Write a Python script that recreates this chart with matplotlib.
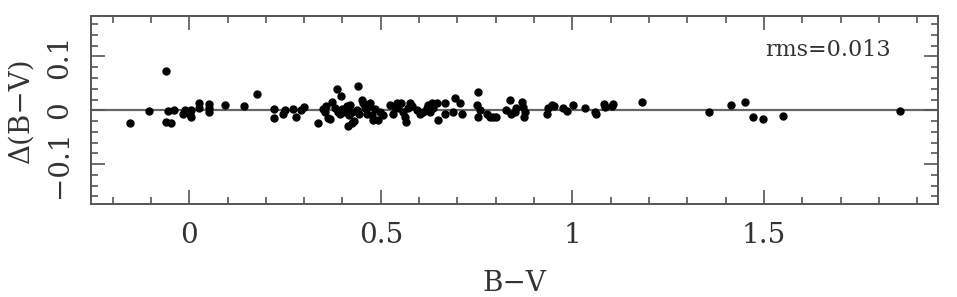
import matplotlib
matplotlib.use("Agg")
import matplotlib.pyplot as plt
from matplotlib.ticker import MultipleLocator, FixedLocator

bv = [-0.155, -0.104, -0.061, -0.061, -0.048, -0.056, -0.040, -0.017, -0.011, 0.002,
      0.004, 0.006, 0.025, 0.026, 0.052, 0.052, 0.053, 0.093, 0.144, 0.176,
      0.221, 0.221, 0.244, 0.250, 0.270, 0.280, 0.293, 0.300, 0.337, 0.350,
      0.354, 0.358, 0.362, 0.367, 0.374, 0.380, 0.386, 0.389, 0.393, 0.395,
      0.400, 0.406, 0.411, 0.415, 0.415, 0.418, 0.419, 0.424, 0.426, 0.430,
      0.437, 0.441, 0.444, 0.450, 0.454, 0.459, 0.463, 0.467, 0.473, 0.476,
      0.480, 0.485, 0.493, 0.498, 0.505, 0.524, 0.531, 0.537, 0.543, 0.546,
      0.554, 0.559, 0.563, 0.567, 0.572, 0.576, 0.581, 0.594, 0.602, 0.611,
      0.620, 0.624, 0.628, 0.633, 0.637, 0.646, 0.650, 0.667, 0.667, 0.689,
      0.694, 0.707, 0.711, 0.750, 0.754, 0.754, 0.759, 0.776, 0.785, 0.794,
      0.802, 0.828, 0.837, 0.841, 0.850, 0.854, 0.868, 0.872, 0.876, 0.874,
      0.933, 0.937, 0.946, 0.952, 0.976, 0.985, 1.001, 1.033, 1.059, 1.063,
      1.083, 1.085, 1.103, 1.107, 1.183, 1.357, 1.413, 1.451, 1.472, 1.498,
      1.551, 1.855]
dbv = [-0.023, -0.001, 0.073, -0.022, -0.024, -0.001, 0.000, -0.006, 0.000, -0.006,
       -0.013, 0.000, 0.004, 0.013, 0.011, -0.003, 0.004, 0.009, 0.008, 0.030,
       0.002, -0.014, -0.007, 0.000, 0.002, -0.013, 0.000, 0.006, -0.024, 0.002,
       -0.004, 0.008, -0.015, -0.017, 0.016, 0.004, 0.039, -0.003, -0.006, 0.026,
       0.002, -0.004, 0.008, 0.002, -0.029, -0.009, 0.010, -0.003, -0.024, -0.019,
       0.000, 0.045, -0.006, 0.020, 0.013, 0.004, -0.006, 0.007, 0.013, -0.009,
       -0.018, 0.002, -0.018, -0.003, -0.009, 0.010, -0.006, 0.007, 0.013, 0.004,
       0.013, -0.003, -0.012, -0.021, 0.004, 0.013, 0.008, 0.000, -0.006, -0.003,
       0.004, 0.010, -0.003, 0.013, 0.004, 0.013, -0.018, 0.013, -0.006, -0.003,
       0.022, 0.013, -0.006, 0.010, 0.034, -0.012, 0.000, -0.006, -0.012, -0.012,
       -0.012, 0.000, 0.019, -0.006, -0.003, 0.004, 0.016, 0.007, -0.003, -0.013,
       -0.006, 0.004, 0.010, 0.008, 0.004, -0.001, 0.010, 0.004, -0.003, -0.006,
       0.011, 0.007, 0.008, 0.011, 0.016, -0.004, 0.009, 0.016, -0.012, -0.016,
       -0.010, -0.001]

xticks = [0, 0.5, 1, 1.5]
xticklabels = ["0", "0.5", "1", "1.5"]
yticks = [-0.1, 0, 0.1]
yticklabels = ["\u22120.1", "0", "0.1"]

plt.rcParams['font.family'] = ['DejaVu Serif']

fig = plt.figure(figsize=(9.57, 2.97), dpi=100)
ax = fig.add_axes([0.0948, 0.313, 0.8852, 0.633])

fc = '#555555'
tc = '#333333'
ax.axhline(0, color='#666666', lw=1.6, zorder=1)
ax.plot(bv, dbv, 'o', ms=5, color='black', mec='black', zorder=2)

ax.set_xlim(-0.257, 1.954)
ax.set_ylim(-0.174, 0.175)

ax.xaxis.set_major_locator(FixedLocator(xticks))
ax.set_xticklabels(xticklabels)
ax.xaxis.set_minor_locator(MultipleLocator(0.1))
ax.yaxis.set_major_locator(FixedLocator(yticks))
ax.set_yticklabels(yticklabels, rotation=90, va='center')
ax.yaxis.set_minor_locator(MultipleLocator(0.02))

ax.tick_params(which='both', direction='in', top=True, right=True, color=fc,
               width=1.2, labelsize=20, labelcolor=tc)
ax.tick_params(which='major', length=10, pad=13)
ax.tick_params(which='minor', length=5)
for s in ax.spines.values():
    s.set_color(fc)
    s.set_linewidth(1.4)

ax.set_xlabel("B\u2212V", fontsize=20, color=tc, labelpad=15)
ax.set_ylabel("\u0394(B\u2212V)", fontsize=20, color=tc, labelpad=8)
ax.text(0.796, 0.819, "rms=0.013", transform=ax.transAxes, fontsize=16,
        color=tc, va='center', ha='left')

fig.savefig("out.png", dpi=100)
